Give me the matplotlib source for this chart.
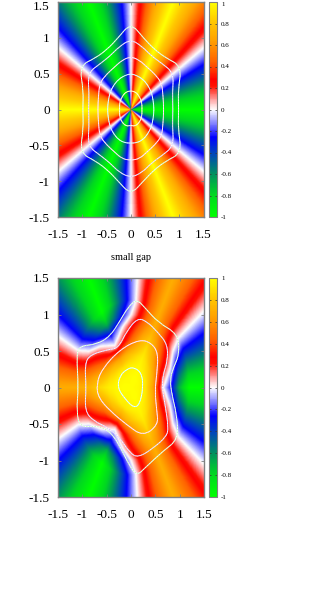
import numpy as np
import matplotlib
matplotlib.use("Agg")
import matplotlib.pyplot as plt
from matplotlib.colors import LinearSegmentedColormap
from matplotlib.path import Path
from matplotlib.patches import PathPatch
from matplotlib.transforms import ScaledTranslation

# ========= values =========
TICKS = [-1.5, -1, -0.5, 0, 0.5, 1, 1.5]
TICK_LABELS = ["-1.5", "-1", "-0.5", "0", "0.5", "1", "1.5"]
CBAR_TICKS = [-1, -0.8, -0.6, -0.4, -0.2, 0, 0.2, 0.4, 0.6, 0.8, 1]
CBAR_LABELS = ["-1", "-0.8", "-0.6", "-0.4", "-0.2", "0", "0.2", "0.4", "0.6", "0.8", "1"]

# colour value against angle (degrees), small gap panel
ANGLE = [0, 10, 20, 30, 40, 50, 60, 70, 80, 90, 100, 110,
         120, 130, 140, 150, 160, 170, 180, 190, 200, 210, 220, 230,
         240, 250, 260, 270, 280, 290, 300, 310, 320, 330, 340, 350, 360]
LOBES = [-1, -0.72, -0.36, 0, 0.36, 0.72, 1, 0.72, 0.36, 0, -0.36, -0.72,
         -1, -0.72, -0.36, 0, 0.36, 0.72, 1, 0.72, 0.36, 0, -0.36, -0.72,
         -1, -0.72, -0.36, 0, 0.36, 0.72, 1, 0.72, 0.36, 0, -0.36, -0.72, -1]

# lower panel: level and lobe strength against radius
RADIUS = [0, 0.15, 0.3, 0.45, 0.65, 0.85, 1, 1.2, 1.5, 2.2]
LEVEL = [1, 0.99, 0.95, 0.80, 0.45, 0.22, 0, -0.15, -0.15, -0.15]
STRENGTH = [0, 0.01, 0.03, 0.15, 0.42, 0.52, 0.7, 0.85, 0.85, 0.85]

# upper panel contours, radius every 15 degrees
CONTOUR_ANGLE = list(range(0, 360, 15))
UPPER_R = [
    [0.99, 1.01, 1.21, 1.02, 0.97, 1.03, 1.21, 1.03, 0.97, 1.02, 1.22, 1.01,
     0.99, 1.01, 1.21, 1.02, 0.97, 1.03, 1.19, 1.03, 0.97, 1.02, 1.21, 1.01],
    [0.87, 0.89, 1.02, 0.91, 0.86, 0.91, 0.98, 0.91, 0.86, 0.90, 1.02, 0.89,
     0.87, 0.89, 1.02, 0.90, 0.86, 0.91, 0.95, 0.91, 0.86, 0.91, 1.02, 0.89],
    [0.68, 0.69, 0.74, 0.70, 0.68, 0.71, 0.74, 0.71, 0.68, 0.70, 0.74, 0.69,
     0.68, 0.69, 0.74, 0.70, 0.68, 0.71, 0.71, 0.71, 0.68, 0.70, 0.74, 0.69],
    [0.48, 0.48, 0.49, 0.49, 0.49, 0.49, 0.50, 0.49, 0.49, 0.49, 0.49, 0.48,
     0.48, 0.48, 0.49, 0.49, 0.49, 0.48, 0.47, 0.48, 0.49, 0.49, 0.49, 0.48],
    [0.23, 0.24, 0.25, 0.25, 0.26, 0.26, 0.26, 0.26, 0.26, 0.25, 0.25, 0.24,
     0.23, 0.24, 0.25, 0.25, 0.25, 0.24, 0.22, 0.24, 0.25, 0.25, 0.25, 0.24],
]
UPPER_TINT = ["#b0ffb0", "#c8b0ff", "#ffb0e8", "#a0ffff", "#ffff80"]

# lower panel contours, (x, y)
LOWER_1 = [(0.12, 1.21), (0.29, 1.09), (0.56, 0.89), (0.97, 0.73), (0.99, 0.45), (0.87, 0.27),
           (0.80, 0.11), (0.84, -0.10), (0.94, -0.37), (0.97, -0.71), (0.66, -0.87), (0.29, -1.10),
           (0.12, -1.21), (-0.05, -1.05), (-0.19, -0.85), (-0.40, -0.62), (-0.67, -0.52), (-1.05, -0.55),
           (-1.12, -0.32), (-1.08, 0), (-1.12, 0.45), (-1.05, 0.57), (-0.71, 0.59), (-0.43, 0.70),
           (-0.23, 0.91), (-0.05, 1.11)]
LOWER_2 = [(0.13, 0.95), (0.32, 0.91), (0.56, 0.75), (0.75, 0.59), (0.75, 0.36), (0.66, 0.18),
           (0.64, 0), (0.70, -0.23), (0.77, -0.55), (0.73, -0.67), (0.46, -0.83), (0.15, -0.96),
           (-0.02, -0.90), (-0.23, -0.69), (-0.47, -0.55), (-0.77, -0.46), (-0.95, -0.32), (-0.92, 0),
           (-0.95, 0.32), (-0.84, 0.45), (-0.47, 0.52), (-0.26, 0.54), (-0.09, 0.77)]
LOWER_3 = [(0.18, 0.66), (0.42, 0.61), (0.56, 0.47), (0.53, 0.18), (0.49, -0.05), (0.53, -0.32),
           (0.56, -0.51), (0.25, -0.67), (-0.09, -0.51), (-0.43, -0.32), (-0.67, -0.14), (-0.71, 0.04),
           (-0.60, 0.25), (-0.23, 0.52)]
LOWER_4 = [(0.05, 0.28), (0.22, 0.20), (0.25, 0), (0.18, -0.23), (0.06, -0.28), (-0.12, -0.16),
           (-0.28, 0), (-0.23, 0.16), (-0.09, 0.25)]
LOWER_CURVES = [LOWER_1, LOWER_2, LOWER_3, LOWER_4]
LOWER_TINT = ["#b0ffb0", "#c8b0ff", "#ffb0e8", "#a0ffff"]

# ========= colours =========
GAP_CMAP = LinearSegmentedColormap.from_list(
    "gap_cmap",
    [
        (0.000, "#00ff00"),
        (0.100, "#00d820"),
        (0.200, "#009060"),
        (0.300, "#0040c0"),
        (0.370, "#0000ff"),
        (0.450, "#a0a0ff"),
        (0.500, "#ffffff"),
        (0.540, "#ffb0b0"),
        (0.610, "#ff1000"),
        (0.640, "#ff0000"),
        (0.720, "#ff6000"),
        (0.820, "#ffa000"),
        (0.910, "#ffc800"),
        (1.000, "#ffff00"),
    ],
    N=256,
)
FRAME = "#808080"
W, H = 332, 609

plt.rcParams["font.family"] = ["Liberation Serif", "DejaVu Serif"]


def smooth_path(pts):
    # closed quadratic curve, picture points used as control points
    pts = np.asarray(pts, dtype=float)
    mids = (pts + np.roll(pts, -1, axis=0)) / 2
    verts = [mids[-1]]
    codes = [Path.MOVETO]
    for p, m in zip(pts, mids):
        verts += [p, m]
        codes += [Path.CURVE3, Path.CURVE3]
    return Path(verts, codes)


def draw_contour(ax, pts, tint):
    ax.add_patch(PathPatch(smooth_path(pts), fc="none", ec="white", lw=0.7))
    ax.add_patch(PathPatch(smooth_path(pts), fc="none", ec=tint, lw=0.5, ls=(0, (2, 2))))


def panel(field, box, curves, tints):
    x0, x1, y0, y1 = box
    ax = fig.add_axes([x0 / W, 1 - y1 / H, (x1 - x0) / W, (y1 - y0) / H])
    im = ax.imshow(field, cmap=GAP_CMAP, vmin=-1, vmax=1, origin="lower",
                   extent=[-1.5, 1.5, -1.5, 1.5], aspect="auto", interpolation="bilinear")
    for pts, tint in zip(curves, tints):
        draw_contour(ax, pts, tint)
    ax.set_xlim(-1.5, 1.5)
    ax.set_ylim(-1.5, 1.5)
    ax.set_xticks(TICKS, TICK_LABELS)
    ax.set_yticks(TICKS, TICK_LABELS)
    ax.tick_params(direction="in", length=2, width=0.6, color=FRAME, top=True, right=True,
                   labelsize=9.5)
    ax.tick_params(axis="x", pad=9)
    ax.tick_params(axis="y", pad=6)
    for s in ax.spines.values():
        s.set_color(FRAME)
        s.set_linewidth(1.0)

    cax = fig.add_axes([209 / W, 1 - y1 / H, 8 / W, (y1 - y0) / H])
    cb = fig.colorbar(im, cax=cax)
    cb.set_ticks(CBAR_TICKS, labels=CBAR_LABELS)
    cax.tick_params(direction="in", length=1.5, width=0.5, color="#303030", left=True, right=True,
                    labelsize=5, pad=3)
    cb.outline.set_edgecolor(FRAME)
    cb.outline.set_linewidth(0.8)
    return ax, cax


# ========= field on a pixel grid =========
grid = np.linspace(-1.5, 1.5, 300)
xx, yy = np.meshgrid(grid, grid)
rr = np.hypot(xx, yy)
tt = np.degrees(np.arctan2(yy, xx)) % 360
lobes = np.interp(tt, ANGLE, LOBES)

upper_field = lobes
lower_field = np.interp(rr, RADIUS, LEVEL) + np.interp(rr, RADIUS, STRENGTH) * lobes

ang = np.radians(CONTOUR_ANGLE)
upper_curves = [np.column_stack([np.array(r) * np.cos(ang), np.array(r) * np.sin(ang)]) for r in UPPER_R]

fig = plt.figure(figsize=(W / 100, H / 100), dpi=100, facecolor="white")
ax_up, cax_up = panel(upper_field, (58, 203.5, 2, 217), upper_curves, UPPER_TINT)
panel(lower_field, (58, 204, 278, 497), LOWER_CURVES, LOWER_TINT)
fig.text(131 / W, 1 - 258 / H, "small gap", ha="center", va="center", fontsize=7.5)

# top labels sit on the figure edge, pull them down just enough to stay whole
for lab, shift in ((ax_up.get_yticklabels()[-1], 4), (cax_up.get_yticklabels()[-1], 2)):
    lab.set_transform(lab.get_transform() + ScaledTranslation(0, -shift / 100, fig.dpi_scale_trans))

fig.savefig("out.png", dpi=100)
